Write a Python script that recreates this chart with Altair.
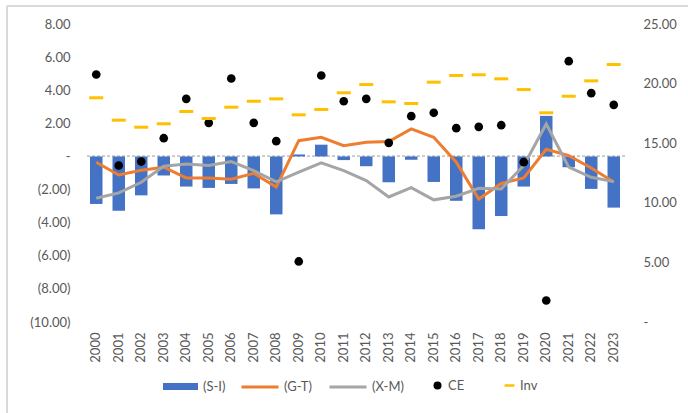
import altair as alt
import pandas as pd

# Annual balances (left axis) and CE / Inv levels (right axis)
years = [str(y) for y in range(2000, 2024)]
s_i = [-2.87, -3.28, -2.35, -1.15, -1.82, -1.90, -1.66, -1.93, -3.50, 0.12,
       0.71, -0.22, -0.59, -1.56, -0.20, -1.54, -2.68, -4.40, -3.60, -1.82,
       2.45, -0.65, -1.96, -3.09]
g_t = [-0.35, -1.12, -0.84, -0.65, -1.30, -1.30, -1.38, -1.02, -1.85, 0.95,
       1.16, 0.65, 0.86, 0.90, 1.66, 1.16, -0.35, -2.57, -1.63, -1.30,
       0.43, 0.05, -0.70, -1.54]
x_m = [-2.53, -2.20, -1.56, -0.59, -0.45, -0.55, -0.31, -0.86, -1.54, -0.95,
       -0.39, -0.86, -1.46, -2.45, -1.88, -2.62, -2.40, -1.92, -1.96, -0.55,
       1.96, -0.65, -1.26, -1.52]
ce = [20.76, 13.13, 13.46, 15.42, 18.72, 16.71, 20.43, 16.71, 15.17, 5.08,
      20.68, 18.52, 18.72, 15.03, 17.27, 17.55, 16.26, 16.37, 16.51, 13.41,
      1.80, 21.88, 19.20, 18.22]
inv = [18.81, 16.93, 16.34, 16.63, 17.66, 17.07, 18.02, 18.52, 18.72, 17.38,
       17.83, 19.23, 19.92, 18.47, 18.33, 20.12, 20.68, 20.74, 20.40, 19.50,
       17.55, 18.94, 20.23, 21.60]

df = pd.DataFrame({"year": years, "S-I": s_i, "G-T": g_t, "X-M": x_m,
                   "CE": ce, "Inv": inv})

FONT = "Lato"
TXT = "#595959"
FS = 13
NB = "\u00a0"  # non-breaking space keeps accounting-style alignment

left_scale = alt.Scale(domain=[-10, 8], nice=False, zero=False)
right_scale = alt.Scale(domain=[0, 25], nice=False, zero=False)
band = alt.Scale(paddingInner=0, paddingOuter=0)

x_axis = alt.Axis(title=None, labelAngle=270, ticks=False, domain=False,
                  grid=False, labelPadding=10, labelFont=FONT,
                  labelFontSize=FS, labelColor=TXT)

left_axis = alt.Axis(
    title=None, values=list(range(-10, 9, 2)), ticks=False, domain=False,
    grid=False, labelPadding=15, labelFont=FONT, labelFontSize=FS,
    labelColor=TXT,
    labelExpr=(
        "datum.value == 0 ? '-" + NB * 4 + "' : (datum.value < 0 ? '(' + "
        "format(-datum.value, '.2f') + ')' : format(datum.value, '.2f') + '"
        + NB + "')"
    ),
)
right_axis = alt.Axis(
    title=None, orient="right", values=list(range(0, 26, 5)), ticks=False,
    domain=False, grid=False, labelPadding=18, labelFont=FONT,
    labelFontSize=FS, labelColor=TXT,
    labelExpr="datum.value == 0 ? '-' : format(datum.value, '.2f')",
)


def x_enc():
    return alt.X("year:O", scale=band, axis=x_axis)


def y_left(field):
    return alt.Y(field, type="quantitative", scale=left_scale, axis=left_axis)


def y_right(field):
    return alt.Y(field, type="quantitative", scale=right_scale,
                 axis=right_axis)


def legend(x, y, shape, size, stroke_w=None):
    kw = dict(title=None, orient="none", legendX=x, legendY=y, padding=0,
              symbolType=shape, symbolSize=size, labelFont=FONT,
              labelFontSize=FS, labelColor=TXT, labelOffset=4)
    if stroke_w is not None:
        kw["symbolStrokeWidth"] = stroke_w
    return alt.Legend(**kw)


def series_color(name, colour, leg):
    return alt.Color(
        "series:N",
        scale=alt.Scale(domain=[name], range=[colour]),
        legend=leg,
    )


base = alt.Chart(df)

# chart-area frame
frame_top = base.mark_rule(color="#D9D9D9", strokeWidth=1).encode(
    x=alt.value(-78), x2=alt.value(603), y=alt.value(-18))
frame_left = base.mark_rule(color="#D9D9D9", strokeWidth=1).encode(
    x=alt.value(-78), y=alt.value(-18), y2=alt.value(389))

zero_line = base.mark_rule(color="#C8C8C8", strokeWidth=1,
                           strokeDash=[3, 2]).encode(
    y=alt.datum(0, type="quantitative", scale=left_scale, axis=left_axis))

bars = base.mark_bar(size=12.5).transform_calculate(series="'(S-I)'").encode(
    x=x_enc(),
    y=y_left("S-I"),
    color=series_color("(S-I)", "#4472C4",
                       legend(77, 344, "M-1,-0.2H1V0.2H-1Z", 1225)),
)

line_gt = base.mark_line(strokeWidth=3).transform_calculate(
    series="'(G-T)'").encode(
    x=x_enc(),
    y=y_left("G-T"),
    color=series_color("(G-T)", "#ED7D31",
                       legend(155, 343, "M-1,0H1", 1369, 3)),
)

line_xm = base.mark_line(strokeWidth=3).transform_calculate(
    series="'(X-M)'").encode(
    x=x_enc(),
    y=y_left("X-M"),
    color=series_color("(X-M)", "#A5A5A5",
                       legend(243, 343, "M-1,0H1", 1369, 3)),
)

dots = base.mark_circle(size=75, opacity=1).transform_calculate(
    series="'CE'").encode(
    x=x_enc(),
    y=y_right("CE"),
    color=series_color("CE", "#000000", legend(346, 355, "circle", 64)),
)

dashes = base.mark_tick(size=14, thickness=3, orient="horizontal",
                        opacity=1).transform_calculate(series="'Inv'").encode(
    x=x_enc(),
    y=y_right("Inv"),
    color=series_color("Inv", "#FFC000",
                       legend(418, 355, "M-1,-0.25H1V0.25H-1Z", 100)),
)

left = alt.layer(zero_line, bars, line_gt, line_xm).resolve_scale(
    color="independent")
right = alt.layer(dots, dashes).resolve_scale(color="independent")

chart = alt.layer(frame_top, frame_left, left, right).resolve_scale(
    y="independent", color="independent"
).properties(
    width=540, height=298,
    autosize=alt.AutoSizeParams(type="none"),
    padding={"left": 85, "top": 24, "right": 63, "bottom": 91},
    background="white",
).configure_view(stroke=None)

chart.save("out.html", embed_options={"renderer": "svg", "actions": False})
